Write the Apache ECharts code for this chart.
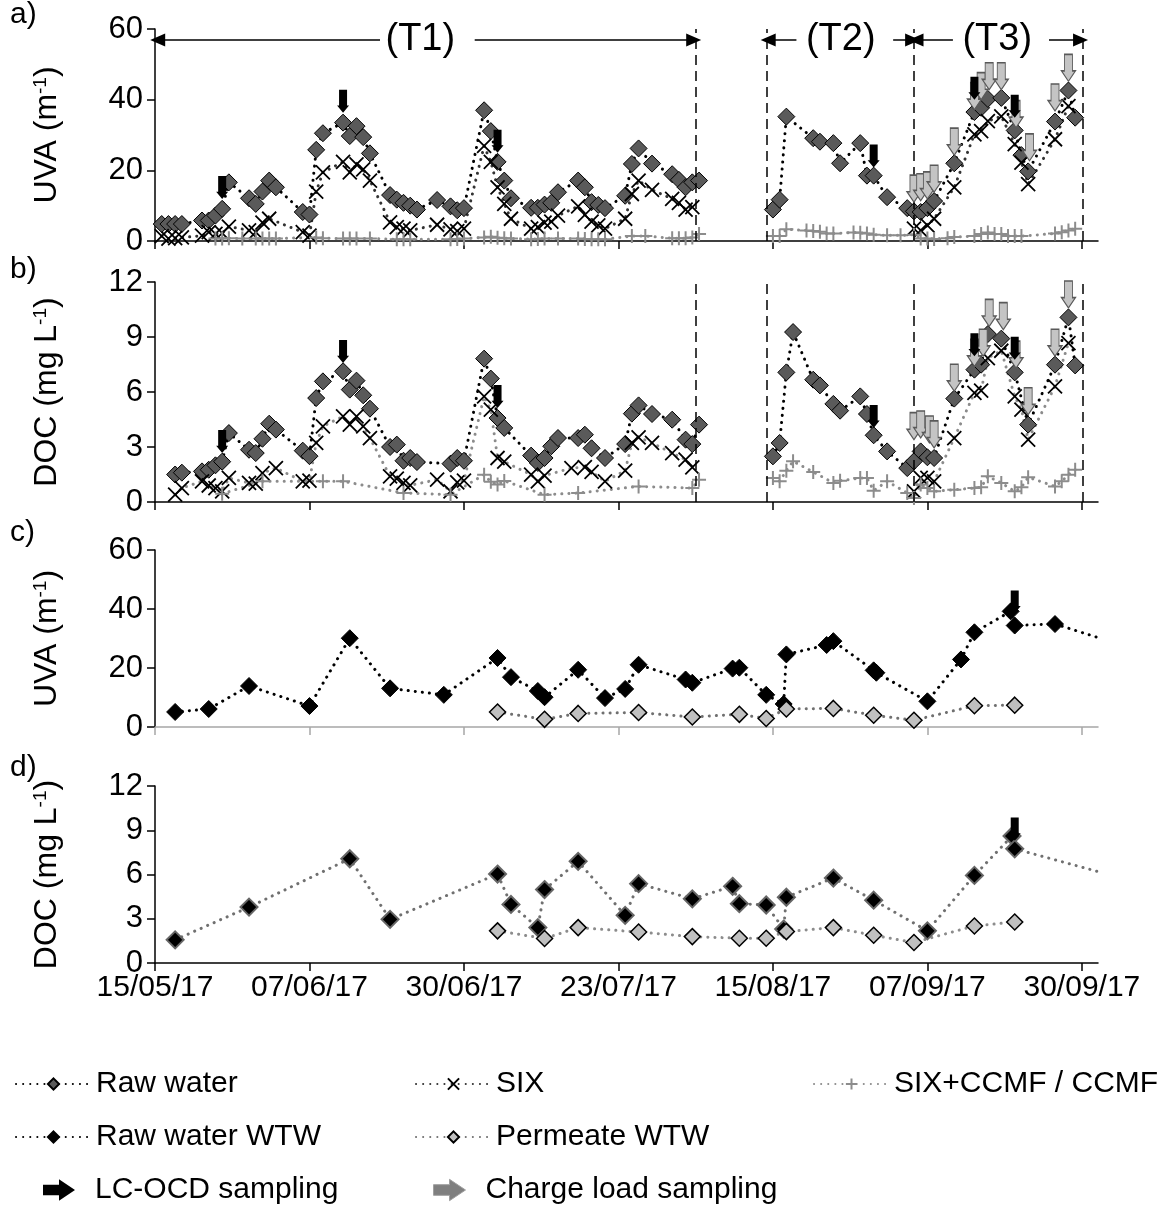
<!DOCTYPE html>
<html><head><meta charset="utf-8">
<script src="https://cdn.jsdelivr.net/npm/echarts@6/dist/echarts.min.js"></script>
<style>html,body{margin:0;padding:0;background:#fff}#chart{width:1173px;height:1205px}</style>
</head><body><div id="chart"></div>
<script>
const FONT = '"Liberation Sans", Arial, sans-serif';
const START = Date.UTC(2017, 4, 15);           // 15/05/17 = day 0
const xTicks = [0, 23, 46, 69, 92, 115, 138];  // tick dates (days)

// ---- Panel a) UVA pilot ----
const rawA = [[1,4.8],[2,4.8],[3,4.8],[4,4.8],[7,5.8],[8,5.8],[9,7.2],[10,9.1],[11,16.6],
 [14,12.1],[15,10.5],[16,14.0],[17,17.1],[18,15.2],[22,8.2],[23,7.5],[24,25.8],[25,30.5],
 [28,33.5],[29,29.7],[30,32.5],[31,29.4],[32,24.8],[35,13.0],[36,11.7],[37,10.8],[38,10.0],[39,8.9],
 [42,11.6],[44,9.8],[45,8.7],[46,9.3],[49,37.0],[50,31.1],[51,22.4],[52,17.1],[53,12.1],
 [56,9.4],[57,9.4],[58,10.3],[59,10.8],[60,13.8],[63,17.1],[64,15.2],[65,11.0],[66,10.2],[67,9.3],
 [70,12.8],[71,21.8],[72,26.2],[74,21.9],[77,18.9],[78,17.3],[79,15.2],[80,16.6],[81,17.1],[86,'-'],
 [92,8.9],[93,11.7],[94,35.2],[98,29.1],[99,28.1],[101,27.7],[102,22.0],[105,27.7],[106,18.5],[107,18.5],
 [109,12.4],[112,9.3],[113,8.4],[114,8.2],[115,9.3],[116,11.3],[119,22.0],[122,36.5],[123,37.7],[124,40.2],
 [126,40.5],[128,31.3],[129,24.3],[130,19.7],[134,33.8],[136,42.6],[137,34.9]];
const sixA = [[1,1.4],[2,0.7],[3,0.8],[4,1.0],[7,1.5],[8,2.5],[9,2.0],[10,2.2],[11,4.1],
 [14,3.0],[15,2.5],[16,5.2],[17,6.3],[22,2.5],[23,1.5],[24,14.0],[25,19.4],
 [28,22.4],[29,19.4],[30,21.7],[31,20.3],[32,17.1],[35,5.3],[36,3.9],[37,3.5],[38,3.0],
 [42,4.6],[44,3.3],[45,2.8],[46,3.5],[49,26.9],[50,22.4],[51,15.2],[52,10.5],[53,6.3],
 [56,3.5],[57,3.9],[58,5.2],[59,5.5],[60,7.2],[63,9.8],[64,7.4],[65,5.5],[66,4.4],[67,3.5],
 [70,6.3],[71,13.3],[72,17.1],[74,14.5],[77,11.9],[78,10.8],[79,8.9],[80,9.6],[86,'-'],
 [113,3.5],[114,3.0],[115,4.4],[116,6.3],[119,15.2],[122,30.2],[123,31.1],[124,33.9],[126,35.3],
 [128,27.4],[129,22.2],[130,16.1],[134,28.8],[136,38.2]];
const ccmfA = [[9,0.7],[10,0.7],[11,0.8],[13,0.7],[15,0.7],[16,0.7],[17,0.7],[18,0.7],
 [24,1.0],[25,0.8],[28,0.7],[29,0.7],[30,0.7],[32,0.7],[36,0.5],[37,0.5],[38,0.5],
 [44,0.5],[45,0.6],[46,0.7],[49,1.0],[50,1.2],[51,0.9],[52,0.8],[53,0.7],
 [56,0.5],[57,0.6],[58,0.7],[60,0.7],[63,0.7],[64,0.6],[65,0.5],[66,0.5],[67,0.5],
 [71,1.4],[73,1.4],[77,0.8],[78,0.8],[79,0.8],[80,1.0],[81,2.0],[86,'-'],
 [92,1.4],[93,1.4],[94,3.3],[97,3.0],[98,2.8],[99,2.6],[100,2.1],[101,2.1],[104,2.4],[105,2.3],
 [106,2.1],[107,1.8],[109,1.6],[111,1.6],[113,1.8],[114,0.7],[115,0.7],[116,0.6],[118,0.8],[119,1.1],
 [122,1.4],[123,2.0],[124,2.4],[125,2.0],[126,2.0],[127,1.4],[128,1.4],[129,1.4],
 [134,2.1],[135,2.5],[136,3.0],[137,3.5]];
const lcA = [[10,11.9],[28,36.3],[51,25.0],[107,20.8],[122,40.0],[128,34.9]];
const clA = [[113,11.0],[114,11.4],[115,11.9],[116,13.8],[119,24.3],[122,37.2],[123,40.0],
 [124.2,42.8],[126,42.8],[128.2,32.1],[130.2,22.7],[134,36.8],[136,45.2]];

// ---- Panel b) DOC pilot ----
const rawB = [[3,1.5],[4,1.6],[7,1.67],[8,1.76],[9,2.0],[10,2.2],[11,3.76],
 [14,2.85],[15,2.67],[16,3.45],[17,4.27],[18,3.95],[22,2.8],[23,2.5],[24,5.67],[25,6.58],
 [28,7.13],[29,6.13],[30,6.62],[31,5.82],[32,5.09],[35,3.0],[36,3.13],[37,2.25],[38,2.4],[39,2.18],
 [44,2.09],[45,2.4],[46,2.25],[49,7.82],[50,6.73],[51,4.58],[52,4.04],
 [56,2.53],[57,2.13],[58,2.4],[59,3.04],[60,3.49],[63,3.49],[64,3.67],[65,2.93],[67,2.4],
 [70,3.16],[71,4.82],[72,5.27],[74,4.8],[77,4.49],[79,3.4],[80,3.16],[81,4.22],[86,'-'],
 [92,2.49],[93,3.22],[94,7.07],[95,9.27],[98,6.67],[99,6.36],[101,5.35],[102,4.98],[105,5.76],[106,4.8],
 [107,3.64],[109,2.76],[112,1.85],[113,2.22],[114,2.76],[115,2.44],[116,2.4],[119,5.64],[122,7.22],
 [123,7.49],[124,9.16],[126,8.91],[128,7.07],[130,4.22],[134,7.49],[136,10.07],[137,7.45]];
const sixB = [[3,0.4],[4,0.76],[7,1.13],[8,0.9],[9,0.76],[10,0.58],[11,1.31],
 [14,1.04],[15,1.0],[16,1.58],[18,1.85],[22,1.13],[23,1.16],[24,3.22],[25,4.13],
 [28,4.67],[29,4.22],[30,4.67],[31,4.13],[32,3.49],[35,1.4],[36,1.27],[37,1.04],[38,0.91],
 [42,1.22],[44,0.58],[45,1.07],[46,1.16],[49,5.76],[50,5.04],[51,2.4],[52,2.2],
 [56,1.49],[57,1.13],[58,1.44],[62,1.85],[64,1.9],[65,1.64],[67,1.13],
 [70,1.71],[71,3.22],[72,3.53],[74,3.22],[77,2.67],[79,2.31],[80,1.89],[86,'-'],
 [113,0.58],[114,1.31],[115,1.31],[116,1.13],[119,3.49],[122,5.95],[123,6.07],[124,7.85],[126,8.25],
 [128,5.76],[129,5.04],[130,3.4],[134,6.31],[136,8.67]];
const ccmfB = [[10,0.45],[16,1.13],[25,1.13],[28,1.13],[37,0.49],[44,0.4],[49,1.49],[50,1.1],[51,0.95],[52,1.15],
 [58,0.4],[63,0.49],[72,0.85],[80,0.76],[81,1.22],[86,'-'],
 [92,1.31],[93,1.13],[94,1.71],[95,2.22],[98,1.64],[101,1.04],[102,1.16],[105,1.31],[106,1.31],[107,0.62],
 [109,1.13],[112,0.49],[113,0.22],[114,0.95],[115,0.76],[116,0.58],[119,0.67],[122,0.76],[123,0.8],[124,1.4],
 [126,1.04],[128,0.58],[129,0.8],[130,1.35],[134,0.85],[135,1.13],[136,1.49],[137,1.76]];
const lcB = [[10,2.67],[28,7.58],[51,5.13],[107,4.04],[122,7.95],[128,7.76]];
const clB = [[113,3.4],[114,3.49],[115.3,3.22],[116,2.95],[119,6.04],[122,7.4],[123.3,7.95],
 [124.2,9.58],[126.3,9.4],[128.2,7.3],[130,4.76],[134,7.95],[136,10.58]];

// ---- Panel c) UVA WTW ----
const rawWtwC = [[3,5.1],[8,6.1],[14,13.9],[23,7.1],[29,30.1],[35,13.1],[43,10.9],[51,23.4],[53,16.9],
 [57,12.2],[58,10.1],[63,19.4],[67,9.8],[70,12.9],[72,21.1],[79,16.1],[80,15.0],[86,19.8],[87,20.1],
 [91,10.9],[93.6,7.8],[94,24.6],[100,27.8],[101,29.1],[107,19.2],[107.4,18.4],[115,8.7],[120,22.9],
 [122,32.1],[127.4,39.2],[128,34.4],[134,34.9],[146,26.3]];
const permC = [[51,5.1],[58,2.6],[63,4.6],[72,4.9],[80,3.4],[87,4.3],[91,2.9],[94,6.1],[101,6.3],
 [107,4.0],[113,2.3],[122,7.2],[128,7.4]];
const lcC = [[128,38.5]];

// ---- Panel d) DOC WTW ----
const rawWtwD = [[3,1.57],[14,3.79],[29,7.07],[35,2.96],[51,6.03],[53,3.97],[57,2.4],[58,4.98],[63,6.89],
 [70,3.23],[72,5.38],[80,4.35],[86,5.2],[87,4.02],[91,3.93],[93.6,2.3],[94,4.46],[101,5.76],[107,4.26],
 [115,2.18],[122,5.94],[127.6,8.61],[128,7.74],[146,5.5]];
const permD = [[51,2.18],[58,1.66],[63,2.4],[72,2.1],[80,1.79],[87,1.68],[91,1.68],[94,2.13],[101,2.4],
 [107,1.88],[113,1.39],[122,2.51],[128,2.78]];
const lcD = [[128,8.3]];

const phaseBounds = [80.5, 91.1, 113.0, 138.1];
const phaseLabels = [['(T1)',39.5,0.4,33.5,47.6,80.2],['(T2)',102.1,91.3,95.5,109.9,112.8],['(T3)',125.4,113.3,118.8,133.1,137.8]];

const xSym = 'path://M0,0L10,10M10,0L0,10';
const plusSym = 'path://M5,0L5,10M0,5L10,5';
const downArrow = 'path://M2,0L10,0L10,15L12,15L6,22L0,15L2,15Z';
const downArrowG = 'path://M3,0L11,0L11,16L14,16L7,26L0,16L3,16Z';
const rightArrow = 'path://M0,5L15,5L15,0L30,10L15,20L15,15L0,15Z';

function fmtDate(v){
  const d = new Date(START + Math.round(v)*86400000);
  const p = n => String(n).padStart(2,'0');
  return p(d.getUTCDate()) + '/' + p(d.getUTCMonth()+1) + '/' + String(d.getUTCFullYear()).slice(2);
}
function dotted(color){ return {type:[0.1,7], cap:'round', width:3, color:color}; }

const series = [];
function addLine(name, g, data, sym, size, itemStyle, lineColor){
  series.push({name, type:'line', xAxisIndex:g, yAxisIndex:g, data, symbol:sym, symbolSize:size,
    itemStyle, lineStyle:dotted(lineColor), connectNulls:false, z:3});
}
const rawStyle = {color:'#5a5a5a', borderColor:'#000', borderWidth:1};
const sixStyle = {color:'rgba(0,0,0,0)', borderColor:'#000', borderWidth:1.8};
const ccmfStyle = {color:'rgba(0,0,0,0)', borderColor:'#8c8c8c', borderWidth:2};
addLine('Raw water',0,rawA,'diamond',17,rawStyle,'#000');
addLine('SIX',0,sixA,xSym,14,sixStyle,'#333');
addLine('SIX+CCMF / CCMF',0,ccmfA,plusSym,14,ccmfStyle,'#8c8c8c');
addLine('Raw water',1,rawB,'diamond',17,rawStyle,'#000');
addLine('SIX',1,sixB,xSym,14,sixStyle,'#8c8c8c');
addLine('SIX+CCMF / CCMF',1,ccmfB,plusSym,14,ccmfStyle,'#8c8c8c');
addLine('Raw water WTW',2,rawWtwC,'diamond',17,{color:'#000',borderColor:'#000',borderWidth:1},'#000');
addLine('Permeate WTW',2,permC,'diamond',16,{color:'#c0c0c0',borderColor:'#000',borderWidth:1.5},'#707070');
addLine('Raw water WTW',3,rawWtwD,'diamond',17,{color:'#000',borderColor:'#666',borderWidth:2},'#707070');
addLine('Permeate WTW',3,permD,'diamond',16,{color:'#c0c0c0',borderColor:'#000',borderWidth:1.5},'#8c8c8c');

function addArrows(name, g, data, sym, size, itemStyle, z){
  series.push({name, type:'scatter', xAxisIndex:g, yAxisIndex:g, data, symbol:sym,
    symbolSize:size, symbolOffset:[0,'-50%'], itemStyle, z});
}
const lcStyle = {color:'#000', opacity:1};
const clStyle = {color:'#c4c4c4', borderColor:'#595959', borderWidth:1.2, opacity:1};
addArrows('Charge load sampling',0,clA,downArrowG,[14,27],clStyle,6);
addArrows('LC-OCD sampling',0,lcA,downArrow,[12,23],lcStyle,7);
addArrows('Charge load sampling',1,clB,downArrowG,[14,27],clStyle,6);
addArrows('LC-OCD sampling',1,lcB,downArrow,[12,23],lcStyle,7);
addArrows('LC-OCD sampling',2,lcC,downArrow,[12,23],lcStyle,7);
addArrows('LC-OCD sampling',3,lcD,downArrow,[12,23],lcStyle,7);

// phase annotations
const dashStyle = {type:[10,6], color:'#000', width:1.5};
const tY = 56.9;
const tLines = [];
phaseLabels.forEach(p => {
  tLines.push([{coord:[p[3],tY], symbol:'none'},{coord:[p[2],tY], symbol:'triangle', symbolSize:[13,15]}]);
  tLines.push([{coord:[p[4],tY], symbol:'none'},{coord:[p[5],tY], symbol:'triangle', symbolSize:[13,15]}]);
});
series.push({name:'annotA', type:'line', xAxisIndex:0, yAxisIndex:0, data:[], silent:true,
  markLine:{silent:true, animation:false, symbol:'none', label:{show:false},
    data: phaseBounds.map(b => ({xAxis:b, lineStyle:dashStyle}))
      .concat(tLines.map(l => { l[0].lineStyle = {type:'solid', color:'#000', width:1.5}; return l; }))},
  markPoint:{silent:true, animation:false, symbol:'circle', symbolSize:1, itemStyle:{color:'rgba(0,0,0,0)'},
    label:{show:true, position:'inside', color:'#000', fontSize:38, fontFamily:FONT},
    data: phaseLabels.map(p => ({coord:[p[1],tY], label:{formatter:p[0]}}))}
});
series.push({name:'annotB', type:'line', xAxisIndex:1, yAxisIndex:1, data:[], silent:true,
  markLine:{silent:true, animation:false, symbol:'none', label:{show:false}, lineStyle:dashStyle,
    data: phaseBounds.map(b => ({xAxis:b}))}});

const gridTops = [[29,212],[282,220],[550,177],[786,177]];
const yCfg = [[60,20,'{t|UVA (m}{s|-1}{t|)}'],[12,3,'{t|DOC (mg L}{s|-1}{t|)}'],[60,20,'{t|UVA (m}{s|-1}{t|)}'],[12,3,'{t|DOC (mg L}{s|-1}{t|)}']];
const rich = {t:{fontSize:32, fontFamily:FONT, color:'#000'}, s:{fontSize:19, fontFamily:FONT, color:'#000', verticalAlign:'top'}};

function legendItem(left, top, name, extra){
  return Object.assign({left, top, data:[name], itemWidth:75, itemHeight:14, selectedMode:false,
    textStyle:{fontSize:30, color:'#000', fontFamily:FONT}}, extra||{});
}

const option = {
  animation:false,
  backgroundColor:'#fff',
  textStyle:{fontFamily:FONT},
  grid: gridTops.map(g => ({left:155, right:75, top:g[0], height:g[1]})),
  xAxis: [0,1,2,3].map(i => ({
    type:'value', gridIndex:i, min:0, max:140.4, interval:23,
    axisLine:{show:true, onZero:false, lineStyle:{color:i===2?'#a6a6a6':'#000', width:1.5}},
    axisTick:{show:true, length:8, customValues:xTicks, lineStyle:{color:i===2?'#a6a6a6':'#000', width:1.5}},
    axisLabel:{show:i===3, customValues:xTicks, formatter:fmtDate, fontSize:30, color:'#000', margin:10, fontFamily:FONT},
    splitLine:{show:false}
  })),
  yAxis: [0,1,2,3].map(i => ({
    type:'value', gridIndex:i, min:0, max:yCfg[i][0], interval:yCfg[i][1],
    axisLine:{show:true, lineStyle:{color:'#000', width:1.5}},
    axisTick:{show:true, length:8, lineStyle:{color:'#000', width:1.5}},
    axisLabel:{fontSize:31, color:'#000', margin:12, fontFamily:FONT},
    splitLine:{show:false},
    name:yCfg[i][2], nameLocation:'middle', nameRotate:90, nameGap:92,
    nameTextStyle:{rich}
  })),
  legend: [
    legendItem(10,1064,'Raw water'),
    legendItem(410,1064,'SIX'),
    legendItem(808,1064,'SIX+CCMF / CCMF'),
    legendItem(10,1117,'Raw water WTW'),
    legendItem(410,1117,'Permeate WTW'),
    legendItem(38,1170,'LC-OCD sampling',{itemWidth:32, itemHeight:22,
      data:[{name:'LC-OCD sampling', icon:rightArrow, itemStyle:{color:'#000', opacity:1}}],
      formatter: n => '\u2002' + n}),
    legendItem(428,1170,'Charge load sampling',{itemWidth:32, itemHeight:22,
      data:[{name:'Charge load sampling', icon:rightArrow, itemStyle:{color:'#7f7f7f', borderColor:'#a0a0a0', borderWidth:1, opacity:1}}],
      formatter: n => '\u2002' + n})
  ],
  graphic: [['a)',0],['b)',255],['c)',518],['d)',753]].map(p => ({
    type:'text', left:10, top:p[1], style:{text:p[0], font:'30px ' + FONT, fill:'#000'}
  })),
  series
};
const chart = echarts.init(document.getElementById('chart'), null, {renderer:'canvas'});
chart.setOption(option);
</script></body></html>
